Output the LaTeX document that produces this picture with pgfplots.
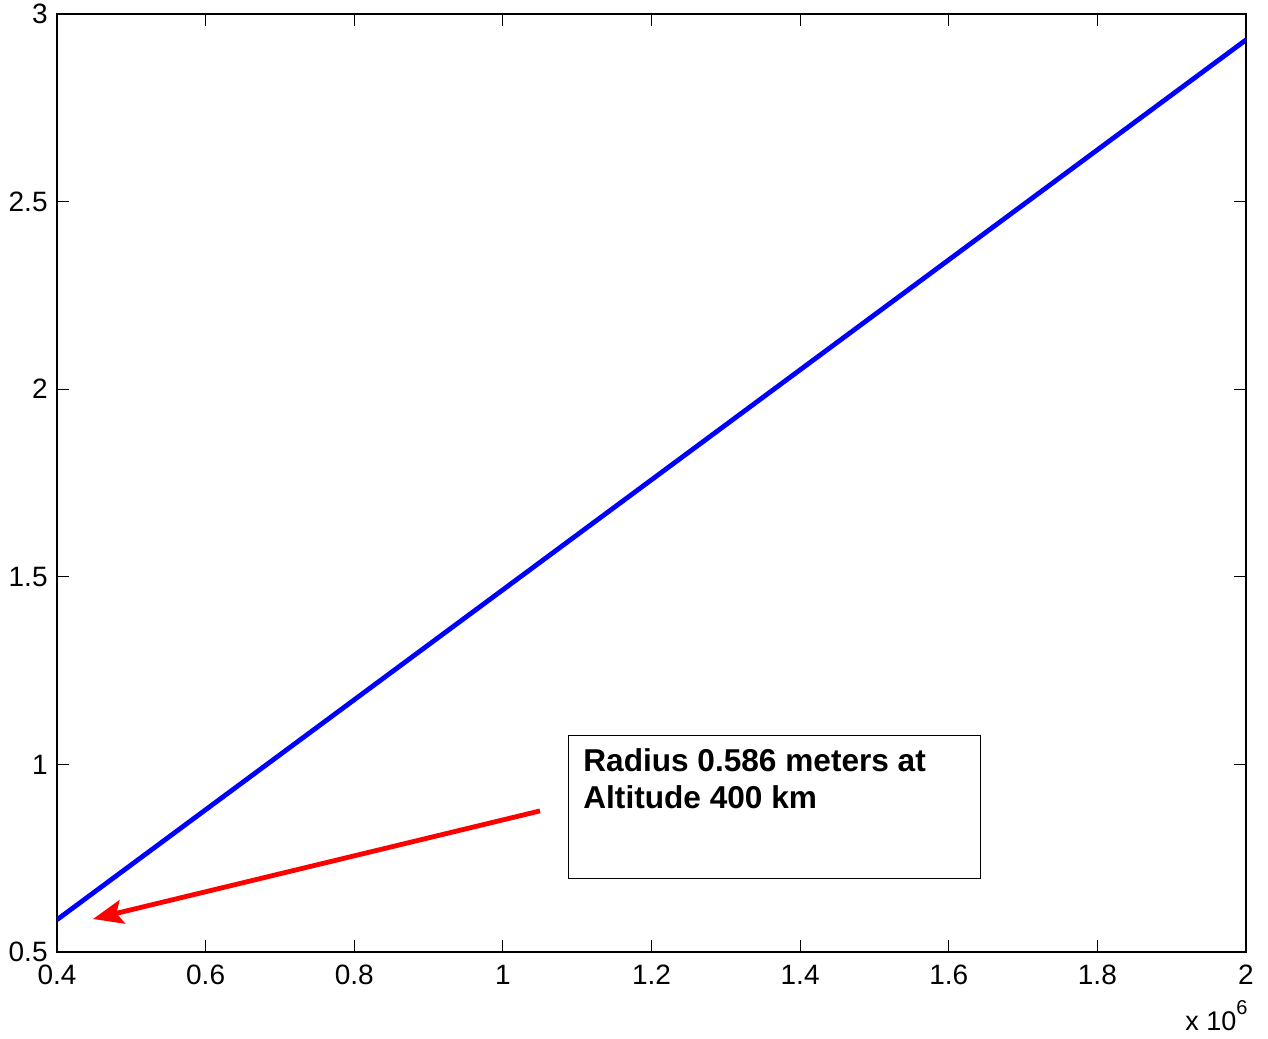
\documentclass[border=0pt]{standalone}
\usepackage{pgfplots}
\pgfplotsset{compat=1.18}
\usepackage{fontspec}
\setmainfont{Liberation Sans}
\usetikzlibrary{arrows.meta}
\begin{document}
\begin{tikzpicture}
\begin{axis}[
  width=594.5pt, height=469pt,
  scale only axis,
  xmin=0.4, xmax=2, ymin=0.5, ymax=3,
  xtick={0.4,0.6,0.8,1,1.2,1.4,1.6,1.8,2},
  ytick={0.5,1,1.5,2,2.5,3},
  /pgf/number format/assume math mode=true,
  tick label style={font=\fontsize{14}{16}\selectfont},
  xticklabel style={inner sep=0pt, yshift=-6.5pt},
  yticklabel style={inner sep=0pt, xshift=-4.5pt},
  major tick length=6pt,
  tick style={black, line width=0.5pt},
  axis line style={line width=0.6pt},
  scaled x ticks=false,
]
\addplot[blue, line width=2.4pt] coordinates {(0.4,0.586) (2,2.931)};
\draw[red, line width=2.4pt, -{Stealth[length=15pt,width=12pt,inset=3pt]}] (axis cs:1.050,0.876) -- (axis cs:0.4485,0.588);
\draw[black, line width=0.5pt] (axis cs:1.0877,0.697) rectangle (axis cs:1.643,1.078);
\node[anchor=base west, inner sep=0pt, font=\fontsize{15.8}{19}\selectfont\bfseries] at (axis cs:1.1078,0.980) {Radius 0.586 meters at};
\node[anchor=base west, inner sep=0pt, font=\fontsize{15.8}{19}\selectfont\bfseries] at (axis cs:1.1078,0.882) {Altitude 400 km};
\end{axis}
\node[anchor=base east, inner sep=0pt, font=\fontsize{13.5}{16}\selectfont] at ([xshift=1pt,yshift=-39pt]current axis.south east) {x 10\raisebox{8pt}{\fontsize{10}{12}\selectfont 6}};
\path (current axis.south west) ++(-28.5pt,-43pt) coordinate (bl);
\path (current axis.north east) ++(11pt,7pt) coordinate (tr);
\path (bl) rectangle (tr);
\end{tikzpicture}
\end{document}
